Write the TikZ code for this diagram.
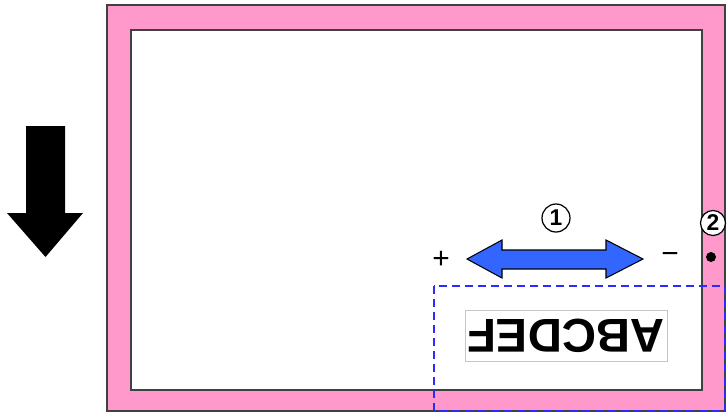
\documentclass[tikz,border=0pt]{standalone}
\usepackage{fontspec}
\setmainfont{Liberation Sans}
\usetikzlibrary{calc}

\definecolor{framepink}{HTML}{FF99CC}
\definecolor{framegray}{HTML}{404040}
\definecolor{arrowblue}{HTML}{3366FF}
\definecolor{dashblue}{HTML}{2B2BFF}

\begin{document}
\begin{tikzpicture}[
    x=0.02cm, y=-0.02cm,
    every node/.style={font=\normalsize},
    pinkframe/.style={draw=framegray, line width=1.1pt},
    bluedash/.style={draw=dashblue, line width=0.8pt, dash pattern=on 0.16cm off 0.1cm},
    numcircle/.style={
        draw,
        circle,
        fill=white,
        line width=0.7pt,
        inner sep=0pt,
        font=\bfseries\fontsize{13}{13}\selectfont
    },
    signtext/.style={inner sep=0pt, font=\fontsize{17}{17}\selectfont},
    textbox/.style={
        draw=gray!45,
        line width=0.5pt,
        minimum width=4.04cm,
        minimum height=1.02cm,
        inner sep=0pt,
        rotate=180,
        font=\bfseries\fontsize{27}{27}\selectfont
    }
]
\useasboundingbox (0,0) rectangle (727,414);

\draw[pinkframe, fill=framepink] (107,5) rectangle (725,411);
\draw[pinkframe, fill=white] (131,30) rectangle (702,390);

\draw[bluedash] (434,286) rectangle (725,411);

% direction arrow
\fill[black] (26,126) -- (65,126) -- (65,213) -- (83,213) -- (45.5,257) -- (7,213) -- (26,213) -- cycle;

% shift arrow
\draw[fill=arrowblue, line width=0.6pt] (467,259) -- (502,240) -- (502,250) -- (606,250) -- (606,240)
    -- (643,259) -- (606,278) -- (606,269) -- (502,269) -- (502,278) -- cycle;

\node[signtext] (plus) at (441,260) {+};
\node[signtext] (minus) at (670,258) {−};
\node[numcircle, minimum size=0.56cm] (one) at (556,218) {1};
\node[numcircle, minimum size=0.5cm] (two) at (713,223) {2};
\node[circle, fill, inner sep=0pt, minimum size=0.2cm] (pin) at (711,257) {};

\node[textbox] (abc) at (566,335.5) {ABCDEF};

\end{tikzpicture}
\end{document}
